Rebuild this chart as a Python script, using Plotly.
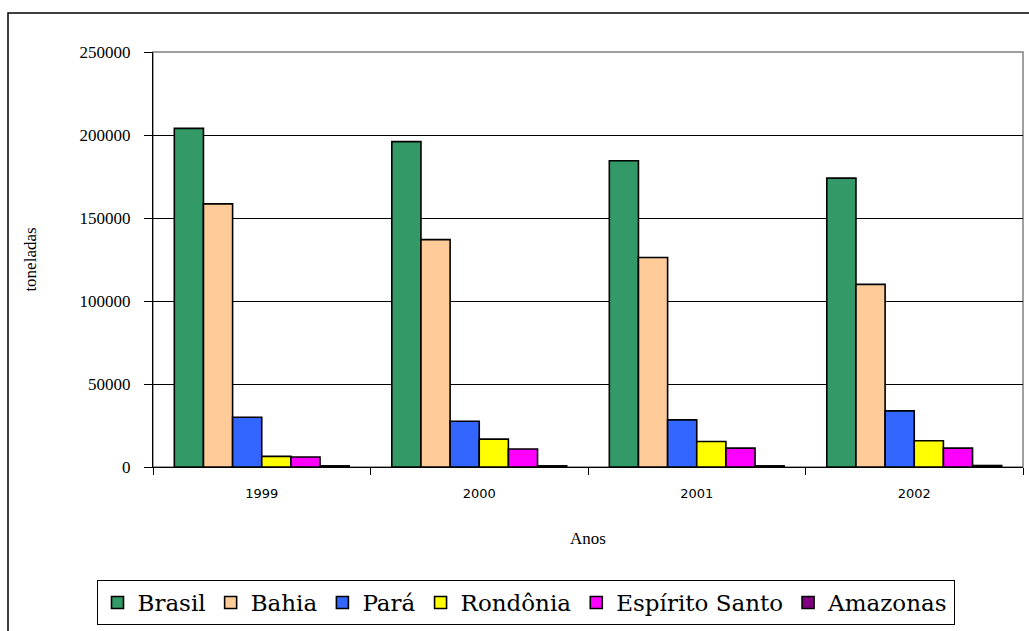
import plotly.graph_objects as go

anos = ["1999", "2000", "2001", "2002"]
brasil = [204000, 196000, 184500, 174000]
bahia = [158500, 137000, 126200, 110000]
para = [30000, 27600, 28400, 33800]
rondonia = [6400, 16800, 15400, 15800]
espirito_santo = [6000, 10800, 11400, 11400]
amazonas = [700, 700, 700, 900]

series = [
    ("Brasil", brasil, "#339966"),
    ("Bahia", bahia, "#FFCC99"),
    ("Pará", para, "#3366FF"),
    ("Rondônia", rondonia, "#FFFF00"),
    ("Espírito Santo", espirito_santo, "#FF00FF"),
    ("Amazonas", amazonas, "#800080"),
]

SERIF = "Liberation Serif"

fig = go.Figure()
for name, vals, color in series:
    fig.add_trace(go.Bar(
        x=anos, y=vals, name=name,
        marker=dict(color=color, line=dict(color="black", width=1.6)),
    ))

W, H = 1029, 631
L, R, T, B = 153, 6, 52, 164
pw = W - L - R
ph = H - T - B

def px_x(x):
    return (x - L) / pw

def px_y(y):
    return (H - B - y) / ph

fig.update_layout(
    template="none",
    width=W, height=H,
    margin=dict(l=L, r=R, t=T, b=B, pad=0),
    paper_bgcolor="white", plot_bgcolor="white",
    barmode="group", bargap=0.196, bargroupgap=0,
    font=dict(family=SERIF, color="black", size=16),
    showlegend=True,
    legend=dict(
        orientation="h",
        xref="container", yref="container",
        x=525.5 / W, xanchor="center",
        y=(H - 580) / H, yanchor="top",
        bordercolor="black", borderwidth=1, bgcolor="white",
        font=dict(family="DejaVu Serif", size=23, color="black"),
        itemwidth=30, tracegroupgap=0,
    ),
    xaxis=dict(
        type="category", automargin=False,
        showline=True, linecolor="black", linewidth=1,
        ticks="outside", tickson="boundaries", ticklen=7, tickcolor="black",
        ticklabelstandoff=14,
        tickfont=dict(family="DejaVu Sans", size=13, color="black"),
        title=dict(text="Anos", font=dict(family=SERIF, size=17, color="black"), standoff=32),
        showgrid=False,
    ),
    yaxis=dict(
        range=[0, 250000], automargin=False,
        tickvals=[0, 50000, 100000, 150000, 200000, 250000],
        ticktext=["0", "50000", "100000", "150000", "200000", "250000"],
        showline=True, linecolor="black", linewidth=1,
        ticks="outside", ticklen=8, tickcolor="black",
        ticklabelstandoff=10,
        tickfont=dict(family=SERIF, size=17, color="black"),
        showgrid=True, gridcolor="black", gridwidth=1,
        zeroline=False,
        title=dict(text="toneladas", font=dict(family=SERIF, size=17, color="black"), standoff=38),
    ),
    shapes=[
        dict(type="rect", xref="paper", yref="paper", x0=0, x1=1, y0=0, y1=1,
             line=dict(color="#808080", width=1.5), layer="between"),
        dict(type="rect", xref="paper", yref="paper",
             x0=px_x(8), x1=px_x(1040), y0=px_y(13), y1=px_y(650),
             line=dict(color="black", width=1.5), fillcolor="rgba(0,0,0,0)", layer="below"),
    ],
)

fig.write_html(
    "out.html",
    config={"displayModeBar": False},
    post_script="document.body.style.margin='0px';document.body.style.overflow='hidden';",
)
